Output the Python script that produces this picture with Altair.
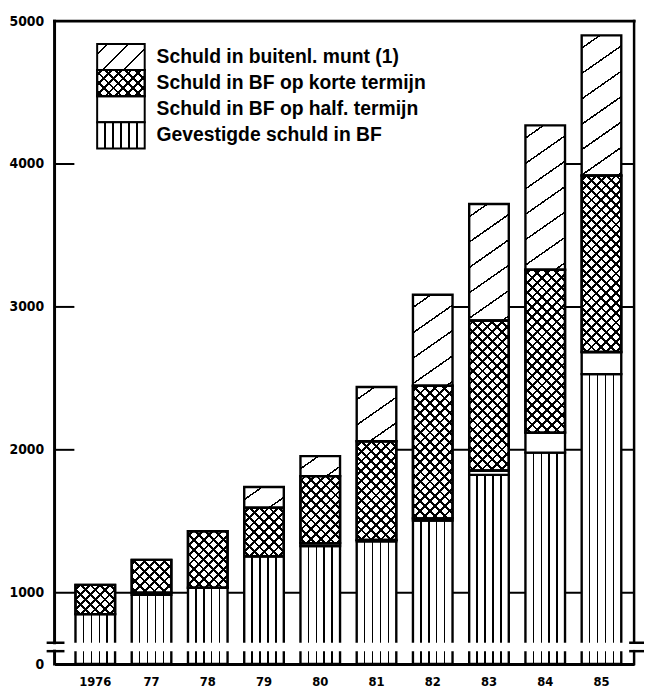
import math
import altair as alt

# ---------------- data ----------------
years = ["1976", "77", "78", "79", "80", "81", "82", "83", "84", "85"]
gevestigde = [850, 985, 1035, 1255, 1326, 1360, 1505, 1825, 1980, 2530]
half_termijn = [0, 15, 0, 0, 20, 10, 15, 30, 140, 155]
korte_termijn = [205, 230, 395, 340, 470, 690, 928, 1050, 1140, 1235]
buitenl_munt = [0, 0, 0, 145, 140, 380, 637, 815, 1010, 980]

legend_labels = [
    "Schuld in buitenl. munt (1)",
    "Schuld in BF op korte termijn",
    "Schuld in BF op half. termijn",
    "Gevestigde schuld in BF",
]
legend_keys = ["buit", "korte", "half", "gev"]
y_ticks = [0, 1000, 2000, 3000, 4000, 5000]
full_grid_level = 1000
grid_levels = [2000, 3000, 4000]
grid_from_year = ["81", "82", "84"]
axis_break = [393, 650]

# ---------------- layout / style ----------------
W, H = 585, 649
Y_DOMAIN = [0, 650, 5000]
Y_RANGE = [H, 627.5, 0]
PAD_INNER, PAD_OUTER, ALIGN = 0.296, 0.3, 0.62
STEP = W / (len(years) - PAD_INNER + 2 * PAD_OUTER)
BAND = STEP * (1 - PAD_INNER)
NARROW = "Liberation Sans Narrow, DejaVu Sans Condensed, sans-serif"
LEG_FONT = "Liberation Sans, Arial, sans-serif"
LEG_RANGE = [23, 128.5]
LEG_W = 48
LEG_H = (LEG_RANGE[1] - LEG_RANGE[0]) / len(legend_labels)
CLEAR = "rgba(255,255,255,0)"

_gid = [0]


def ypx(v):
    for i in range(len(Y_DOMAIN) - 1):
        d0, d1 = Y_DOMAIN[i], Y_DOMAIN[i + 1]
        r0, r1 = Y_RANGE[i], Y_RANGE[i + 1]
        if v <= d1:
            return r0 + (v - d0) / (d1 - d0) * (r1 - r0)
    return Y_RANGE[-1]


def hatch(w, h, nx, ny, spacing, lw, fg="black", bg="white", phase=None):
    n = math.hypot(nx, ny)
    nx, ny = nx / n, ny / n
    x0 = 0 if nx >= 0 else w
    y0 = 0 if ny >= 0 else h
    R = abs(nx) * w + abs(ny) * h
    k = R / (nx * nx * w * w + ny * ny * h * h)
    u1, v1 = x0 / w, y0 / h
    u2, v2 = u1 + k * nx * w, v1 + k * ny * h
    d = lw / 2 / R
    stops = [{"offset": 0, "color": bg}]
    p = spacing / 2 if phase is None else phase
    while p < R - 0.5:
        tc = p / R
        a, b = max(0.0, tc - d), min(1.0, tc + d)
        stops += [
            {"offset": round(a, 5), "color": bg},
            {"offset": round(a, 5), "color": fg},
            {"offset": round(b, 5), "color": fg},
            {"offset": round(b, 5), "color": bg},
        ]
        p += spacing
    stops.append({"offset": 1, "color": bg})
    _gid[0] += 1
    return {"gradient": "linear", "id": "hatch_%d" % _gid[0],
            "x1": round(u1, 5), "y1": round(v1, 5),
            "x2": round(u2, 5), "y2": round(v2, 5), "stops": stops}


def fills(key, w, h, legend=False):
    if key == "gev":
        return hatch(w, h, 1, 0, 8, 1.5, phase=8), None
    if key == "half":
        return "white", None
    if key == "korte":
        return (hatch(w, h, 1, 1, 7.0, 2.0),
                hatch(w, h, 1, -1, 7.0, 2.0, bg=CLEAR))
    if legend:
        return hatch(w, h, 1, 1, 15, 1.5), None
    return hatch(w, h, 0.7, 1, 21, 1.5), None


records = []
for i, yr in enumerate(years):
    base = 0
    for key, vals in [("gev", gevestigde), ("half", half_termijn),
                      ("korte", korte_termijn), ("buit", buitenl_munt)]:
        v = vals[i]
        if v > 0:
            h = ypx(base) - ypx(base + v)
            g1, g2 = fills(key, BAND, h)
            records.append({"year": yr, "cat": key, "y0": base, "y1": base + v,
                            "grad": g1, "grad2": g2})
        base += v

leg_records = []
for lab, key in zip(legend_labels, legend_keys):
    g1, g2 = fills(key, LEG_W, LEG_H, legend=True)
    leg_records.append({"label": lab, "cat": key, "grad": g1, "grad2": g2})

grid_records = [{"level": l, "start": s} for l, s in zip(grid_levels, grid_from_year)]
seg_records = [{"a": axis_break[1], "b": y_ticks[-1]}, {"a": y_ticks[0], "b": axis_break[0]}]
brk_records = [{"v": v} for v in axis_break]

xscale = alt.Scale(domain=years, paddingInner=PAD_INNER, paddingOuter=PAD_OUTER,
                   align=ALIGN, round=False)
yscale = alt.Scale(domain=Y_DOMAIN, range=Y_RANGE, nice=False, zero=False)

yaxis = alt.Axis(values=y_ticks, format="d", title=None, domain=False, ticks=False,
                 grid=False, labelPadding=11, labelFont=NARROW, labelFontWeight="bold",
                 labelFontSize=14, labelColor="black")
xaxis = alt.Axis(title=None, labelAngle=0, ticks=False, domain=True, domainColor="black",
                 domainWidth=3, labelPadding=12, labelFont=NARROW, labelFontWeight="bold",
                 labelFontSize=13, labelColor="black", zindex=1, grid=False)


def yq(field):
    return alt.Y(field, scale=yscale, axis=yaxis)


def xq(field, **kw):
    return alt.X(field, scale=xscale, axis=xaxis, **kw)


grid_full = alt.Chart(alt.Data(values=[{"level": full_grid_level}])).mark_rule(
    color="black", strokeWidth=2).encode(y=yq("level:Q"), x=alt.value(0), x2=alt.value(W))

grid_part = alt.Chart(alt.Data(values=grid_records)).mark_rule(color="black", strokeWidth=2).encode(
    y=yq("level:Q"), x=xq("start:N", bandPosition=1), x2=alt.value(W))

grid_stub = alt.Chart(alt.Data(values=grid_records)).mark_rule(color="black", strokeWidth=2).encode(
    y=yq("level:Q"), x=alt.value(0), x2=alt.value(20))

bars = alt.Chart(alt.Data(values=records)).mark_bar(stroke="black", strokeWidth=2.4).encode(
    x=xq("year:N"), y=yq("y0:Q"), y2="y1:Q",
    fill=alt.Fill("grad:N", scale=None))

bars_x = alt.Chart(alt.Data(values=records)).transform_filter(
    "datum.cat == 'korte'").mark_bar(stroke="black", strokeWidth=2.4).encode(
    x=xq("year:N"), y=yq("y0:Q"), y2="y1:Q",
    fill=alt.Fill("grad2:N", scale=None))

break_band = alt.Chart(alt.Data(values=[{"a": axis_break[0], "b": axis_break[1]}])).mark_rect(
    fill="white").encode(y=yq("a:Q"), y2="b:Q", x=alt.value(2), x2=alt.value(W - 2))

left_axis = alt.Chart(alt.Data(values=seg_records)).mark_rule(
    color="black", strokeWidth=3, strokeCap="square").encode(
    y=yq("a:Q"), y2="b:Q", x=alt.value(0))

right_axis = alt.Chart(alt.Data(values=seg_records)).mark_rule(
    color="black", strokeWidth=2.5, strokeCap="square").encode(
    y=yq("a:Q"), y2="b:Q", x=alt.value(W))

top_border = alt.Chart(alt.Data(values=[{"v": y_ticks[-1]}])).mark_rule(
    color="black", strokeWidth=3, strokeCap="square").encode(
    y=yq("v:Q"), x=alt.value(0), x2=alt.value(W))

brk_left = alt.Chart(alt.Data(values=brk_records)).mark_rule(color="black", strokeWidth=2.5).encode(
    y=yq("v:Q"), x=alt.value(-8), x2=alt.value(10))

brk_right = alt.Chart(alt.Data(values=brk_records)).mark_rule(color="black", strokeWidth=2.5).encode(
    y=yq("v:Q"), x=alt.value(W - 5), x2=alt.value(W + 10))

main = alt.layer(grid_full, grid_part, grid_stub, bars, bars_x, break_band,
                 left_axis, right_axis, top_border, brk_left, brk_right)

leg_y = alt.Y("label:N", scale=alt.Scale(domain=legend_labels, range=LEG_RANGE,
                                         paddingInner=0, paddingOuter=0), axis=None)
leg_box = alt.Chart(alt.Data(values=leg_records)).mark_rect(stroke="black", strokeWidth=2).encode(
    y=leg_y, x=alt.value(43), x2=alt.value(43 + LEG_W), fill=alt.Fill("grad:N", scale=None))
leg_box_x = alt.Chart(alt.Data(values=leg_records)).transform_filter(
    "datum.cat == 'korte'").mark_rect(stroke="black", strokeWidth=2).encode(
    y=leg_y, x=alt.value(43), x2=alt.value(43 + LEG_W), fill=alt.Fill("grad2:N", scale=None))
leg_text = alt.Chart(alt.Data(values=leg_records)).mark_text(
    align="left", baseline="middle", font=LEG_FONT, fontWeight="bold",
    fontSize=19.5, color="black").encode(y=leg_y, x=alt.value(103), text="label:N")

legend = alt.layer(leg_box, leg_box_x, leg_text)

chart = alt.layer(main, legend).resolve_scale(y="independent").properties(
    width=W, height=H,
    padding={"left": 47, "top": 10, "right": 10, "bottom": 27},
    autosize=alt.AutoSizeParams(type="none"),
).configure_view(stroke=None)

chart.save("out.html", embed_options={"renderer": "svg", "actions": False})
